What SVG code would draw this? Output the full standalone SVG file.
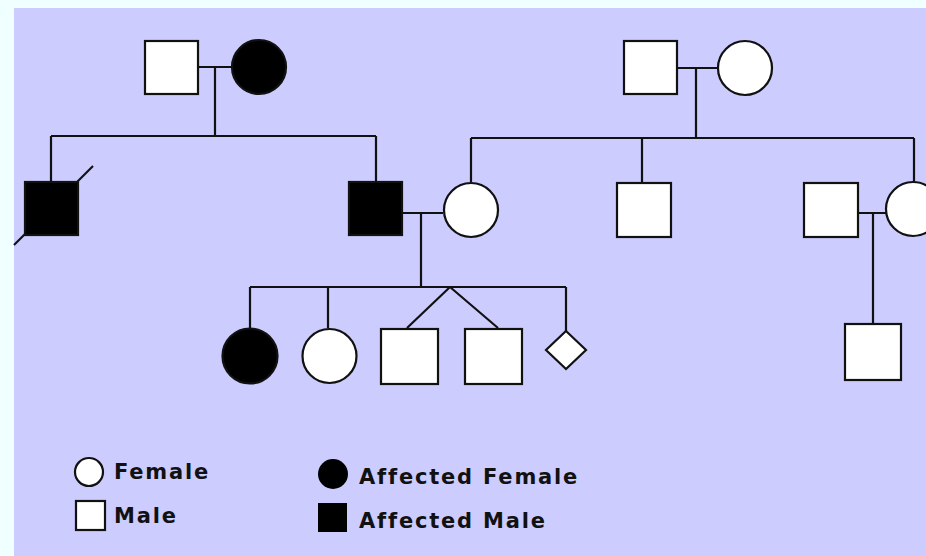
<svg xmlns="http://www.w3.org/2000/svg" width="926" height="556" viewBox="0 0 926 556">
<style>
.ln{stroke:#111;stroke-width:2.2;fill:none}
.m{fill:#fff;stroke:#111;stroke-width:2.2}
.a{fill:#000;stroke:#111;stroke-width:2.2}
.lg{font-family:"DejaVu Sans",Verdana,sans-serif;font-weight:bold;font-size:21px;letter-spacing:1.8px;fill:#111}
</style>
<rect x="0" y="0" width="926" height="556" fill="#f0ffff"/>
<rect x="14" y="8" width="912" height="548" fill="#ccccff"/>
<g id="connectors">
<path class="ln" d="M199 67H232M215 67V136M51 136H376M51 136V181M376 136V181"/>
<path class="ln" d="M93 166L14 245"/>
<path class="ln" d="M677 68H718M696 68V138M471 138H914M471 138V182M642 138V183M914 138V182"/>
<path class="ln" d="M403 213H443M421 213V287M250 287H566M250 287V328M328 287V328M450 287L407 328M450 287L498 328M566 287V331"/>
<path class="ln" d="M859 213H886M873 213V324"/>
</g>
<g id="gen1-male-left"><rect class="m" x="145" y="41" width="53" height="53"/></g>
<g id="gen1-female-left"><circle class="a" cx="259" cy="67" r="27"/></g>
<g id="gen1-male-right"><rect class="m" x="624" y="41" width="53" height="53"/></g>
<g id="gen1-female-right"><circle class="m" cx="745" cy="68" r="27"/></g>
<g id="gen2-affected-male-deceased"><rect class="a" x="25" y="182" width="53" height="53"/></g>
<g id="gen2-affected-male"><rect class="a" x="349" y="182" width="53" height="53"/></g>
<g id="gen2-female"><circle class="m" cx="471" cy="210" r="27"/></g>
<g id="gen2-male"><rect class="m" x="617" y="183" width="54" height="54"/></g>
<g id="gen2-spouse-male"><rect class="m" x="804" y="183" width="54" height="54"/></g>
<g id="gen2-female-right"><circle class="m" cx="913" cy="209" r="27"/></g>
<g id="gen3-affected-female"><circle class="a" cx="250" cy="356" r="27.5"/></g>
<g id="gen3-female"><circle class="m" cx="329.5" cy="356" r="27"/></g>
<g id="gen3-twin-male-1"><rect class="m" x="381" y="329" width="57" height="55"/></g>
<g id="gen3-twin-male-2"><rect class="m" x="465" y="329" width="57" height="55"/></g>
<g id="gen3-unknown"><polygon class="m" points="566,331 586,350 566,369 546,350"/></g>
<g id="gen3-male-right"><rect class="m" x="845" y="324" width="56" height="56"/></g>
<g id="legend">
<circle class="m" cx="89" cy="472" r="14"/>
<text class="lg" x="114" y="479">Female</text>
<rect class="m" x="76" y="501" width="29" height="29"/>
<text class="lg" x="114" y="523">Male</text>
<circle fill="#000" cx="333" cy="474" r="15"/>
<text class="lg" x="359" y="484">Affected Female</text>
<rect fill="#000" x="318" y="503" width="29" height="29"/>
<text class="lg" x="359" y="528">Affected Male</text>
</g>
</svg>
